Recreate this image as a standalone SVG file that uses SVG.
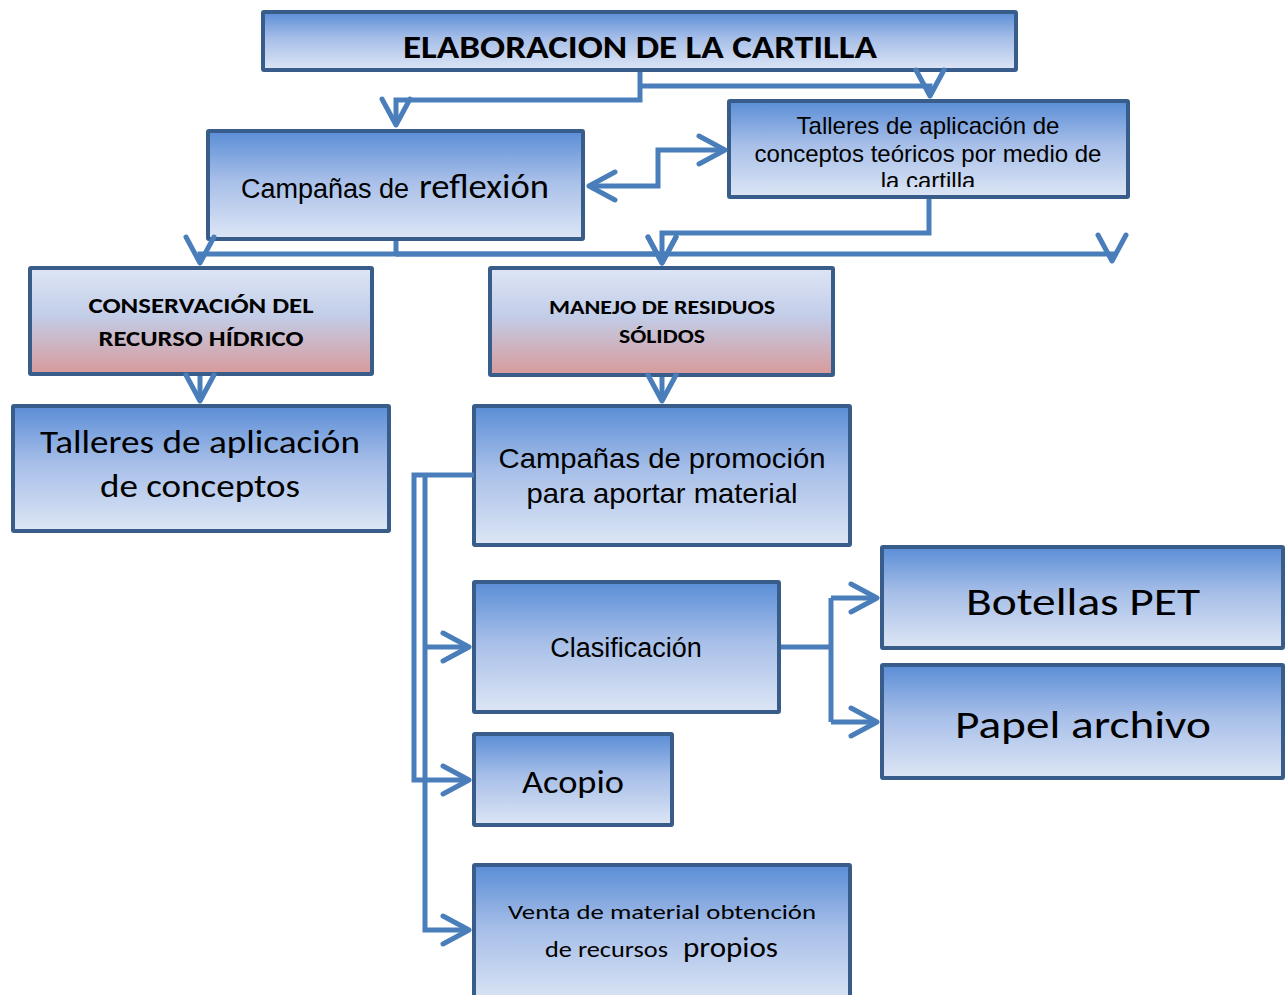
<svg xmlns="http://www.w3.org/2000/svg" width="1287" height="995" viewBox="0 0 1287 995">
<style>
.box{fill:url(#gBlue);stroke:#385d8a;stroke-width:4}
.boxp{fill:url(#gPink);stroke:#385d8a;stroke-width:4}
.ar{font-family:"Liberation Sans",Arial,sans-serif;fill:#000}
.ca{font-family:Carlito,Lato,"Open Sans",sans-serif;fill:#000}
.cb{font-family:Carlito,Lato,"Open Sans",sans-serif;font-weight:bold;fill:#000}
.mid{text-anchor:middle}
.cn{fill:none;stroke:#4a7ebb;stroke-width:5;stroke-linejoin:miter}
.ae{marker-end:url(#ah)}
</style>
<defs>
<linearGradient id="gBlue" x1="0" y1="0" x2="0" y2="1">
<stop offset="0" stop-color="#5a8dd6"/>
<stop offset="0.45" stop-color="#a6bee8"/>
<stop offset="1" stop-color="#dde6f5"/>
</linearGradient>
<linearGradient id="gPink" x1="0" y1="0" x2="0" y2="1">
<stop offset="0" stop-color="#dde5f5"/>
<stop offset="0.45" stop-color="#c2cde8"/>
<stop offset="1" stop-color="#d89a9a"/>
</linearGradient>
<marker id="ah" viewBox="-30 -18 34 36" refX="0" refY="0" markerWidth="34" markerHeight="36" markerUnits="userSpaceOnUse" orient="auto-start-reverse">
<path d="M-26,-14 L0,0 L-26,14" fill="none" stroke="#4a7ebb" stroke-width="5" stroke-linecap="round" stroke-linejoin="round"/>
</marker>
<clipPath id="clipT"><rect x="731" y="103" width="395" height="84"/></clipPath>
</defs>

<g id="n-elaboracion">
<rect class="box" x="263" y="12" width="753" height="58" rx="1"/>
<text class="cb mid" x="640" y="58" font-size="33" textLength="474" lengthAdjust="spacingAndGlyphs">ELABORACION DE LA CARTILLA</text>
</g>

<g id="n-reflexion">
<rect class="box" x="208" y="131" width="375" height="108" rx="1"/>
<text y="198"><tspan class="ar" x="241" font-size="27">Campañas de </tspan><tspan class="ca" x="419" font-size="35" textLength="130" lengthAdjust="spacingAndGlyphs">reflexión</tspan></text>
</g>

<g id="n-talleres-teoricos">
<rect class="box" x="729" y="101" width="399" height="96" rx="1"/>
<g clip-path="url(#clipT)">
<text class="ar mid" x="928" font-size="24"><tspan x="928" y="134">Talleres de aplicación de</tspan><tspan x="928" y="162">conceptos teóricos por medio de</tspan><tspan x="928" y="189">la cartilla</tspan></text>
</g>
</g>

<g id="n-conservacion">
<rect class="boxp" x="30" y="268" width="342" height="106" rx="1"/>
<text class="cb mid" font-size="23"><tspan x="201" y="313" textLength="225" lengthAdjust="spacingAndGlyphs">CONSERVACIÓN DEL</tspan><tspan x="201" y="346" textLength="205" lengthAdjust="spacingAndGlyphs">RECURSO HÍDRICO</tspan></text>
</g>

<g id="n-manejo">
<rect class="boxp" x="490" y="268" width="343" height="107" rx="1"/>
<text class="cb mid" font-size="21"><tspan x="662" y="314" textLength="226" lengthAdjust="spacingAndGlyphs">MANEJO DE RESIDUOS</tspan><tspan x="662" y="343" textLength="86" lengthAdjust="spacingAndGlyphs">SÓLIDOS</tspan></text>
</g>

<g id="n-talleres-conceptos">
<rect class="box" x="13" y="406" width="376" height="125" rx="1"/>
<text class="ca mid" font-size="33"><tspan x="200" y="453" textLength="320" lengthAdjust="spacingAndGlyphs">Talleres de aplicación</tspan><tspan x="200" y="497" textLength="200" lengthAdjust="spacingAndGlyphs">de conceptos</tspan></text>
</g>

<g id="n-promocion">
<rect class="box" x="474" y="406" width="376" height="139" rx="1"/>
<text class="ar mid" font-size="28"><tspan x="662" y="468" textLength="327" lengthAdjust="spacingAndGlyphs">Campañas de promoción</tspan><tspan x="662" y="503" textLength="271" lengthAdjust="spacingAndGlyphs">para aportar material</tspan></text>
</g>

<g id="n-clasificacion">
<rect class="box" x="474" y="582" width="305" height="130" rx="1"/>
<text class="ar mid" x="626" y="657" font-size="27">Clasificación</text>
</g>

<g id="n-botellas">
<rect class="box" x="882" y="547" width="401" height="101" rx="1"/>
<text class="ca mid" x="1083" y="615" font-size="39" textLength="234" lengthAdjust="spacingAndGlyphs">Botellas PET</text>
</g>

<g id="n-papel">
<rect class="box" x="882" y="665" width="401" height="113" rx="1"/>
<text class="ca mid" x="1083" y="738" font-size="39" textLength="256" lengthAdjust="spacingAndGlyphs">Papel archivo</text>
</g>

<g id="n-acopio">
<rect class="box" x="474" y="734" width="198" height="91" rx="1"/>
<text class="ca mid" x="573" y="793" font-size="32" textLength="102" lengthAdjust="spacingAndGlyphs">Acopio</text>
</g>

<g id="n-venta">
<rect class="box" x="474" y="865" width="376" height="140" rx="1"/>
<text class="ca mid" x="662" y="919" font-size="21" textLength="308" lengthAdjust="spacingAndGlyphs">Venta de material obtención</text>
<text class="ca" y="957"><tspan x="545" font-size="22" textLength="123" lengthAdjust="spacingAndGlyphs">de recursos</tspan> <tspan x="683" font-size="28" textLength="95" lengthAdjust="spacingAndGlyphs">propios</tspan></text>
</g>

<g id="connectors">
<path class="cn ae" d="M640,72 V100 H396 V125"/>
<path class="cn ae" d="M640,86 H930 V96"/>
<path class="cn ae" d="M589,186 H658 V150 H725" marker-start="url(#ah)"/>
<path class="cn ae" d="M396,241 V254 H200 V263"/>
<path class="cn ae" d="M396,254 H662 V263"/>
<path class="cn ae" d="M396,254 H1112 V261"/>
<path class="cn ae" d="M929,199 V233 H662 V263"/>
<path class="cn ae" d="M200,376 V401"/>
<path class="cn ae" d="M662,377 V401"/>
<path class="cn ae" d="M474,475 H414 V780 H469"/>
<path class="cn ae" d="M425,477 V930 H469"/>
<path class="cn ae" d="M425,647 H469"/>
<path class="cn" d="M781,647 H831"/>
<path class="cn" d="M831,598 V722"/>
<path class="cn ae" d="M831,598 H877"/>
<path class="cn ae" d="M831,722 H877"/>
</g>
</svg>
